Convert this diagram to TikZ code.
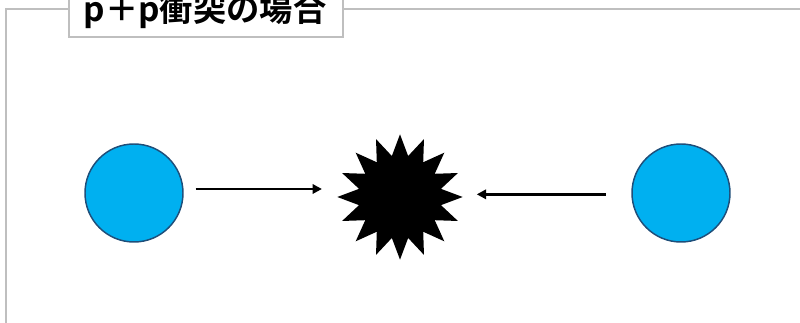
\documentclass[tikz,border=0pt]{standalone}
\usepackage{fontspec}
\newfontfamily\jpfont{Noto Sans CJK JP}[BoldFont={Noto Sans CJK JP Bold}]
\usetikzlibrary{shapes.geometric,arrows.meta}
\definecolor{frame}{HTML}{BFBFBF}
\definecolor{proton}{HTML}{00B0F0}
\definecolor{protonedge}{HTML}{1F4E79}
\tikzset{
  particle/.style={circle,draw=protonedge,fill=proton,line width=1.1pt,minimum size=73.5pt,inner sep=0pt},
  burststar/.style={star,star points=16,star point ratio=1.5,fill=black,draw=none,minimum size=94pt,inner sep=0pt},
  motion/.style={line width=2.1pt,-{Triangle[length=7pt,width=7pt]}},
  titlebox/.style={draw=frame,fill=white,line width=1.4pt}
}
\begin{document}
\begin{tikzpicture}[x=0.75pt,y=-0.75pt]
\useasboundingbox (0,0) rectangle (800,323);
\clip (0,0) rectangle (800,323);
\draw[frame,line width=1.4pt] (6,9) rectangle (830,360);
\draw[titlebox] (69,-20) rectangle (343,37);
\node[anchor=base,font=\jpfont\bfseries\fontsize{25pt}{29pt}\selectfont,inner sep=0pt] (title) at (205,22) {p＋p衝突の場合};
\node[particle] (pl) at (134,193) {};
\node[particle] (pr) at (681,193) {};
\node[burststar] (burst) at (400,197) {};
\draw[motion] ([xshift=9pt,yshift=3pt]pl.east) -- ([xshift=-11pt,yshift=6pt]burst.west);
\draw[motion] ([xshift=-19pt,yshift=-1pt]pr.west) -- ([xshift=10pt,yshift=2pt]burst.east);
\end{tikzpicture}
\end{document}
